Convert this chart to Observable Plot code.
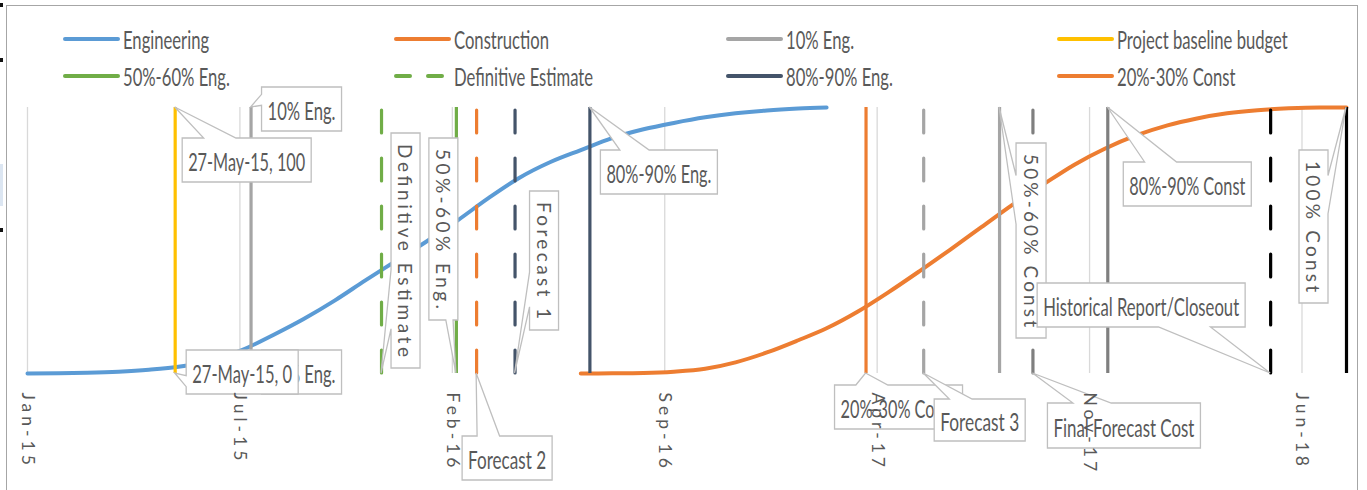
<!DOCTYPE html>
<html>
<head>
<meta charset="utf-8">
<script src="https://cdn.jsdelivr.net/npm/d3@7"></script>
<script src="https://cdn.jsdelivr.net/npm/@observablehq/plot@0.6"></script>
<style>
  html, body { margin: 0; padding: 0; background: #fff; }
  #wrap { position: relative; width: 1367px; height: 490px; overflow: hidden; font-family: Lato, "Open Sans", sans-serif; }
  #frame { position: absolute; left: 6px; top: 5px; width: 1352px; height: 520px; border: 1.5px solid #A6A6A6; box-sizing: border-box; }
  #chart { position: absolute; left: 0; top: 0; }
  #legend { position: absolute; left: 0; top: 0; width: 1367px; height: 95px; }
  .li { position: absolute; height: 30px; }
  .li svg { position: absolute; left: 0; top: 0; }
  .li span { position: absolute; top: 0; line-height: 30px; font-size: 25px; color: #595959; white-space: nowrap; transform: scaleX(0.665); transform-origin: 0 50%; }
  .mark { position: absolute; left: 0; width: 3px; }
</style>
</head>
<body>
<div id="wrap">
  <div id="chart"></div>
  <div id="frame"></div>
  <div id="legend"></div>
  <div class="mark" style="top:3px;height:4px;background:#111"></div>
  <div class="mark" style="top:58px;height:4px;background:#111"></div>
  <div class="mark" style="top:228px;height:4px;background:#111"></div>
  <div class="mark" style="top:164px;height:42px;background:#DCE6F2"></div>
</div>
<script>
// ---------------- data ----------------
const engDates = ["2015-01-01","2015-02-01","2015-03-01","2015-04-01","2015-05-01","2015-06-01","2015-07-01","2015-08-01","2015-09-01","2015-10-01","2015-11-01","2015-12-01",
  "2016-01-01","2016-02-01","2016-03-01","2016-04-01","2016-05-01","2016-06-01","2016-07-01","2016-08-01","2016-09-01","2016-10-01","2016-11-01","2016-12-01",
  "2017-01-01","2017-02-01","2017-03-01"];
const engValues = [0, 0.1, 0.3, 0.7, 1.4, 2.6, 4.8, 8.8, 14.5, 20.5, 27.5, 35,
  42.5, 50, 57.5, 66, 73.5, 79.5, 84, 88.5, 91.8, 94.2, 96.3, 97.8,
  98.9, 99.6, 100];

const constDates = ["2016-07-01","2016-08-01","2016-09-01","2016-10-01","2016-11-01","2016-12-01",
  "2017-01-01","2017-02-01","2017-03-01","2017-04-01","2017-05-01","2017-06-01","2017-07-01","2017-08-01","2017-09-01","2017-10-01","2017-11-01","2017-12-01",
  "2018-01-01","2018-02-01","2018-03-01","2018-04-01","2018-05-01","2018-06-01","2018-07-01","2018-07-28"];
const constValues = [0, 0.05, 0.2, 0.7, 1.8, 4.2,
  7.9, 12.5, 17, 23.3, 30.5, 38.5, 46.5, 55, 63.5, 71, 78.5, 84.5,
  89.5, 93.3, 95.8, 97.8, 99, 99.7, 100, 100];

// milestone vertical lines (each spans 0 -> 100)
const milestoneNames = ["Project baseline budget","10% Eng.","Definitive Estimate","50%-60% Eng.","Forecast 2","Forecast 1","80%-90% Eng.",
  "20%-30% Const","Forecast 3","50%-60% Const","Final Forecast Cost","80%-90% Const","Historical Report/Closeout","100% Const"];
const milestoneDates = ["2015-05-27","2015-08-10","2015-12-17","2016-02-29","2016-03-20","2016-04-27","2016-07-10",
  "2017-04-09","2017-06-05","2017-08-19","2017-09-21","2017-12-04","2018-05-14","2018-07-28"];
const milestoneLow = 0, milestoneHigh = 100;

const xDomain = ["2015-01-01", "2018-07-28"];
const tickDates = ["2015-01-01","2015-07-30","2016-02-25","2016-09-22","2017-04-20","2017-11-16","2018-06-14"];

const legendNames = ["Engineering","Construction","10% Eng.","Project baseline budget","50%-60% Eng.","Definitive Estimate","80%-90% Eng.","20%-30% Const"];

// ---------------- styles ----------------
const seriesStyle = {
  "Engineering": {color: "#5B9BD5"},
  "Construction": {color: "#ED7D31"},
  "Project baseline budget": {color: "#FFC000"},
  "10% Eng.": {color: "#A5A5A5"},
  "Definitive Estimate": {color: "#70AD47", dash: true},
  "50%-60% Eng.": {color: "#70AD47"},
  "Forecast 2": {color: "#ED7D31", dash: true},
  "Forecast 1": {color: "#44546A", dash: true},
  "80%-90% Eng.": {color: "#44546A"},
  "20%-30% Const": {color: "#ED7D31"},
  "Forecast 3": {color: "#A5A5A5", dash: true},
  "50%-60% Const": {color: "#A5A5A5"},
  "Final Forecast Cost": {color: "#7F7F7F", dash: true},
  "80%-90% Const": {color: "#7F7F7F"},
  "Historical Report/Closeout": {color: "#000000", dash: true},
  "100% Const": {color: "#000000"}
};

// callout layout: which milestone, which end, box offset from anchor (px), box size, orientation
const calloutLayout = [
  {line: "10% Eng.", end: "low", dx: 11, dy: -23, w: 80, h: 44},
  {line: "Project baseline budget", end: "low", dx: 11.5, dy: -23, w: 112, h: 44, dateLabel: true},
  {line: "Project baseline budget", end: "high", dx: 7.5, dy: 31, w: 129, h: 44, dateLabel: true},
  {line: "10% Eng.", end: "high", dx: 11, dy: -20, w: 80, h: 44},
  {line: "Definitive Estimate", end: "low", dx: 10, dy: -240, w: 29, h: 235, vertical: true},
  {line: "50%-60% Eng.", end: "low", dx: -27, dy: -235, w: 29, h: 182, vertical: true},
  {line: "Forecast 1", end: "low", dx: 15, dy: -182, w: 29, h: 139, vertical: true},
  {line: "Forecast 2", end: "low", dx: -14, dy: 63, w: 90, h: 44},
  {line: "80%-90% Eng.", end: "high", dx: 11, dy: 43, w: 117, h: 44},
  {line: "20%-30% Const", end: "low", dx: -31, dy: 12, w: 128, h: 44},
  {line: "Forecast 3", end: "low", dx: 11, dy: 26, w: 91, h: 42},
  {line: "50%-60% Const", end: "high", dx: 17, dy: 36, w: 30, h: 195, vertical: true},
  {line: "Final Forecast Cost", end: "low", dx: 15, dy: 30, w: 153, h: 45},
  {line: "80%-90% Const", end: "high", dx: 16, dy: 55, w: 128, h: 44},
  {line: "Historical Report/Closeout", end: "low", dx: -233, dy: -90, w: 208, h: 44},
  {line: "100% Const", end: "high", dx: -47, dy: 43, w: 29, h: 153, vertical: true}
];

// ---------------- build ----------------
const toDate = s => new Date(s + "T00:00:00Z");
const eng = engDates.map((d, i) => ({date: toDate(d), value: engValues[i]}));
const cons = constDates.map((d, i) => ({date: toDate(d), value: constValues[i]}));
const milestones = milestoneNames.map((n, i) => ({name: n, date: toDate(milestoneDates[i])}));
const ticks = tickDates.map(toDate);
const fmtTick = d3.utcFormat("%b-%y");
const fmtDay = d3.utcFormat("%-d-%b-%y");
const FONT = "Lato, 'Open Sans', sans-serif";
const DASH = "23,25";

const ruleMarks = milestones.map(m => Plot.ruleX([m], {
  x: "date", y1: milestoneLow, y2: milestoneHigh,
  stroke: seriesStyle[m.name].color, strokeWidth: 3.2,
  strokeDasharray: seriesStyle[m.name].dash ? DASH : null,
  strokeLinecap: seriesStyle[m.name].dash ? "round" : "butt"
}));

const chart = Plot.plot({
  width: 1367, height: 490,
  marginLeft: 27, marginRight: 21, marginTop: 107, marginBottom: 117,
  style: {background: "transparent", overflow: "visible", fontFamily: FONT},
  x: {type: "utc", domain: xDomain.map(toDate), axis: null},
  y: {domain: [0, 100], axis: null},
  marks: [
    Plot.gridX(ticks, {stroke: "#D9D9D9", strokeOpacity: 1, strokeWidth: 1.3}),
    Plot.line(eng, {x: "date", y: "value", stroke: seriesStyle["Engineering"].color, strokeWidth: 4, curve: "monotone-x"}),
    Plot.line(cons, {x: "date", y: "value", stroke: seriesStyle["Construction"].color, strokeWidth: 4, curve: "monotone-x"}),
    ...ruleMarks,
    Plot.text(ticks, {x: d => d, frameAnchor: "bottom", text: d => fmtTick(d), rotate: 90, textAnchor: "start",
      lineAnchor: "middle", dy: 19, fontSize: 17.5, fill: "#595959", fontFamily: FONT})
  ]
});
document.getElementById("chart").appendChild(chart);

// callouts drawn with the chart's own scales
const sx = chart.scale("x"), sy = chart.scale("y");
function calloutPath(x0, y0, w, h, tx, ty) {
  const cx = x0 + w / 2, cy = y0 + h / 2, ddx = tx - cx, ddy = ty - cy;
  const dq = ddx * h / w, dz = Math.abs(ddy) - Math.abs(dq);
  const x1 = x0 + w, y1 = y0 + h;
  let p;
  if (dz > 0) {
    const g1 = x0 + w * (ddx > 0 ? 7 : 2) / 12, g2 = x0 + w * (ddx > 0 ? 10 : 5) / 12;
    p = ddy < 0 ? [[x0,y0],[g1,y0],[tx,ty],[g2,y0],[x1,y0],[x1,y1],[x0,y1]]
                : [[x0,y0],[x1,y0],[x1,y1],[g2,y1],[tx,ty],[g1,y1],[x0,y1]];
  } else {
    const g1 = y0 + h * (ddy > 0 ? 7 : 2) / 12, g2 = y0 + h * (ddy > 0 ? 10 : 5) / 12;
    p = ddx < 0 ? [[x0,y0],[x1,y0],[x1,y1],[x0,y1],[x0,g2],[tx,ty],[x0,g1]]
                : [[x0,y0],[x1,y0],[x1,g1],[tx,ty],[x1,g2],[x1,y1],[x0,y1]];
  }
  return "M" + p.map(q => q.join(",")).join("L") + "Z";
}
const cg = d3.create("svg:g").attr("aria-label", "callouts").attr("font-family", FONT).attr("fill", "#595959");
calloutLayout.forEach(c => {
  const m = milestones.find(d => d.name === c.line);
  const val = c.end === "high" ? milestoneHigh : milestoneLow;
  const ax = sx.apply(m.date), ay = sy.apply(val);
  const x0 = ax + c.dx, y0 = ay + c.dy;
  const label = c.dateLabel ? `${fmtDay(m.date)}, ${val}` : m.name;
  cg.append("path").attr("d", calloutPath(x0, y0, c.w, c.h, ax, ay))
    .attr("fill", "#fff").attr("stroke", "#BFBFBF").attr("stroke-width", 1.3);
  const t = cg.append("text").attr("text-anchor", "middle").attr("dominant-baseline", "central").text(label);
  if (c.vertical) {
    t.attr("transform", `translate(${x0 + c.w / 2},${y0 + c.h / 2}) rotate(90)`)
      .attr("font-size", 19).attr("textLength", c.h - 22).attr("lengthAdjust", "spacing");
  } else {
    t.attr("x", x0 + c.w / 2).attr("y", y0 + c.h / 2 + 1)
      .attr("font-size", 25).attr("textLength", c.w - 12).attr("lengthAdjust", "spacingAndGlyphs");
  }
});
chart.appendChild(cg.node());
// tick labels sit above the callouts, with wide letter spacing
const tickGroup = Array.from(chart.querySelectorAll("g")).find(g => g.getAttribute("aria-label") === "text");
if (tickGroup) {
  tickGroup.setAttribute("letter-spacing", "4");
  chart.appendChild(tickGroup);
}

// legend
const legend = document.getElementById("legend");
legendNames.forEach((n, i) => {
  const col = i % 4, row = Math.floor(i / 4);
  const st = seriesStyle[n];
  const div = document.createElement("div");
  div.className = "li";
  div.style.left = (63 + col * 331.3) + "px";
  div.style.top = (24 + row * 37) + "px";
  div.innerHTML = `<svg width="60" height="30"><line x1="2" x2="${st.dash ? 53 : 55}" y1="15" y2="15" stroke="${st.color}" stroke-width="4" stroke-linecap="round" ${st.dash ? 'stroke-dasharray="14,18"' : ''}/></svg><span style="left:60px">${n}</span>`;
  legend.appendChild(div);
});
</script>
</body>
</html>
